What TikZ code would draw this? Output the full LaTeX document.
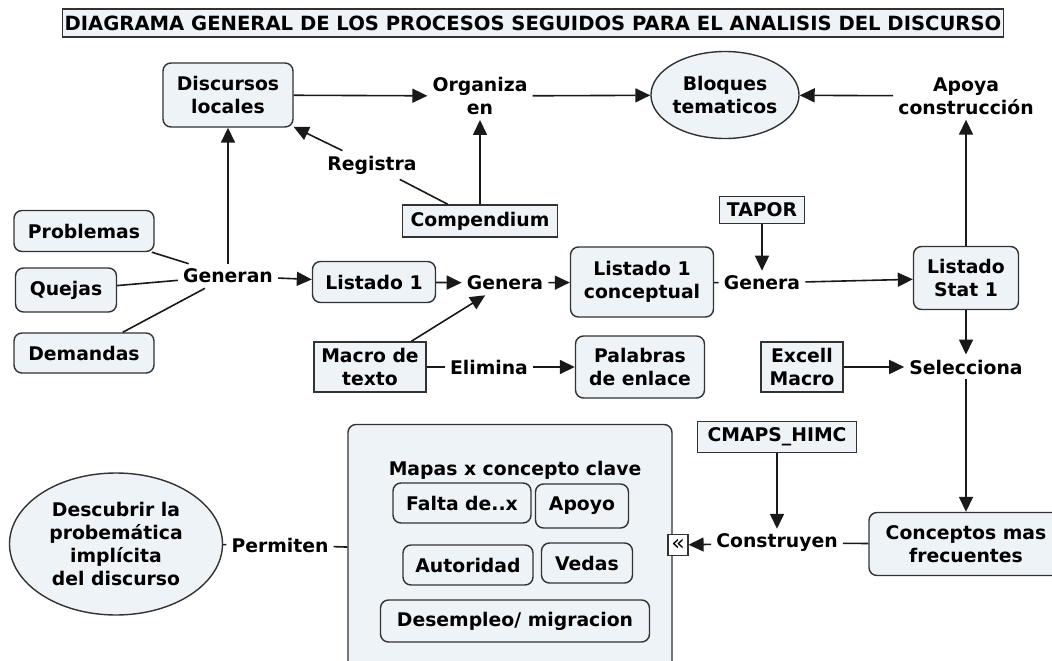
\documentclass[tikz,border=0pt]{standalone}
\usepackage{fontspec}
\setmainfont{DejaVu Sans}
\usetikzlibrary{positioning,arrows.meta,shapes.geometric}
\definecolor{cmfill}{RGB}{238,243,247}
\definecolor{cmline}{RGB}{50,50,50}

\begin{document}
\begin{tikzpicture}[x=1pt,y=-1pt,
			every node/.style={font=\fontsize{18.8}{23}\selectfont\bfseries, align=center},
			concept/.style={rectangle, rounded corners=8pt, draw=cmline, fill=cmfill, line width=1.4pt, inner sep=0pt},
			toolnode/.style={rectangle, draw=cmline, fill=cmfill, line width=1.4pt, inner sep=0pt},
			roundnode/.style={ellipse, draw=cmline, fill=cmfill, line width=1.4pt, inner sep=0pt},
			linkword/.style={inner sep=5pt},
			conn/.style={draw=black!90, line width=1.6pt},
			arr/.style={conn, -{Triangle[length=15pt,width=14pt]}},
			]
			\useasboundingbox (0,0) rectangle (1052,661);

			%Title
			\node[toolnode, minimum width=941pt, minimum height=28pt, font=\fontsize{19.6}{23}\selectfont\bfseries] (title) at (533,23)
				{DIAGRAMA GENERAL DE LOS PROCESOS SEGUIDOS PARA EL ANALISIS DEL DISCURSO};

			%Nodes
			\node[concept, minimum width=130pt, minimum height=64pt] (disc) at (228,95) {Discursos\\locales};
			\node[linkword] (organiza) at (480,96) {Organiza\\en};
			\node[roundnode, minimum width=146pt, minimum height=87pt] (bloques) at (725,95) {Bloques\\tematicos};
			\node[linkword] (apoya) at (966,96) {Apoya\\construcción};
			\node[linkword] (registra) at (372,165) {Registra};
			\node[toolnode, minimum width=155pt, minimum height=32pt] (compendium) at (480,221) {Compendium};

			\node[concept, minimum width=140pt, minimum height=41pt] (problemas) at (84,231) {Problemas};
			\node[concept, minimum width=101pt, minimum height=44pt] (quejas) at (66,290) {Quejas};
			\node[concept, minimum width=140pt, minimum height=40pt] (demandas) at (84,353) {Demandas};
			\node[linkword] (generan) at (228,276) {Generan};
			\node[concept, minimum width=123pt, minimum height=41pt] (listado) at (374,282) {Listado 1};
			\node[linkword] (genera) at (505,283) {Genera};
			\node[concept, minimum width=143pt, minimum height=70pt] (listconc) at (642,282) {Listado 1\\conceptual};
			\node[toolnode, minimum width=85pt, minimum height=27pt] (tapor) at (762,210) {TAPOR};
			\node[linkword] (generados) at (762,283) {Genera};
			\node[concept, minimum width=105pt, minimum height=63pt] (stat) at (966,278) {Listado\\Stat 1};

			\node[toolnode, minimum width=112pt, minimum height=50pt] (macro) at (370,367) {Macro de\\texto};
			\node[linkword] (elimina) at (489,367) {Elimina};
			\node[concept, minimum width=129pt, minimum height=62pt] (palabras) at (640,367) {Palabras\\de enlace};
			\node[toolnode, minimum width=82pt, minimum height=50pt] (excell) at (802,367) {Excell\\Macro};
			\node[linkword] (selecciona) at (966,367) {Selecciona};

			\node[toolnode, minimum width=159pt, minimum height=31pt] (cmaps) at (777,437) {CMAPS\_HIMC};
			\node[linkword] (construyen) at (777,543) {Construyen};
			\node[concept, minimum width=194pt, minimum height=63pt] (conceptos) at (966,544) {Conceptos mas\\frecuentes};

			\node[concept, minimum width=324pt, minimum height=255pt] (mapas) at (510,552) {};
			\node (mapastit) at (515,470) {Mapas x concepto clave};
			\node[concept, minimum width=138pt, minimum height=40pt] (falta) at (462,503) {Falta de..x};
			\node[concept, minimum width=93pt, minimum height=44pt] (apoyo) at (582,506) {Apoyo};
			\node[concept, minimum width=130pt, minimum height=40pt] (autoridad) at (468,565) {Autoridad};
			\node[concept, minimum width=91pt, minimum height=40pt] (vedas) at (587,563) {Vedas};
			\node[concept, minimum width=269pt, minimum height=42pt] (desempleo) at (515,621) {Desempleo/ migracion};
			\node[draw=cmline, fill=white, line width=1.2pt, minimum width=20pt, minimum height=21pt, inner sep=0pt, font=\fontsize{22}{22}\selectfont] (mapicon) at (678,545) {«};

			\node[linkword] (permiten) at (280,545) {Permiten};
			\node[roundnode, minimum width=213pt, minimum height=142pt] (descubrir) at (116,544) {Descubrir la\\probemática\\implícita\\del discurso};

			%Links
			\draw[arr] (disc) -- (organiza);
			\draw[arr] (organiza) -- (bloques);
			\draw[arr] (apoya) -- (bloques);
			\draw[conn] (compendium) -- (registra);
			\draw[arr] (registra) -- (disc);
			\draw[arr] (compendium) -- (organiza);

			\draw[conn] (problemas) -- (generan);
			\draw[conn] (quejas) -- (generan);
			\draw[conn] (demandas) -- (generan);
			\draw[arr] (generan) -- (disc);
			\draw[arr] (generan) -- (listado);
			\draw[arr] (listado) -- (genera);
			\draw[arr] (genera) -- (listconc);
			\draw[arr] (macro) -- (genera);
			\draw[conn] (listconc) -- (generados);
			\draw[arr] (tapor) -- (generados);
			\draw[arr] (generados) -- (stat);
			\draw[arr] (stat) -- (apoya);
			\draw[arr] (stat) -- (selecciona);

			\draw[conn] (macro) -- (elimina);
			\draw[arr] (elimina) -- (palabras);
			\draw[arr] (excell) -- (selecciona);
			\draw[arr] (selecciona) -- (conceptos);

			\draw[arr] (cmaps) -- (construyen);
			\draw[conn] (conceptos) -- (construyen);
			\draw[arr] (construyen) -- (mapicon);
			\draw[conn] (mapas) -- (permiten);
			\draw[conn] (permiten) -- (descubrir);
		\end{tikzpicture}
\end{document}
